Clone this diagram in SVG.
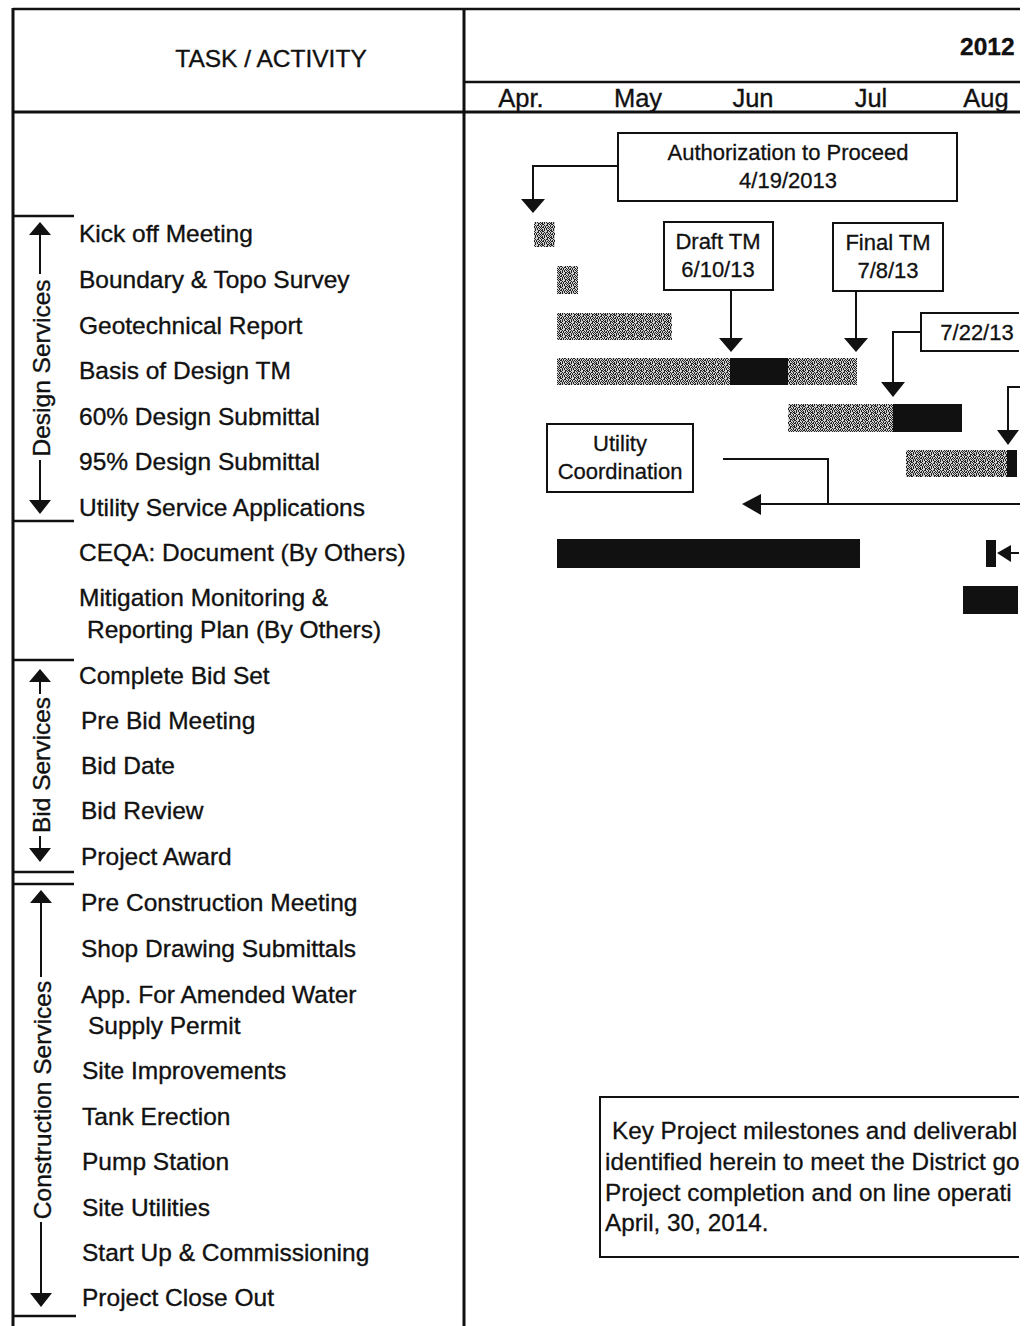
<svg xmlns="http://www.w3.org/2000/svg" width="1034" height="1326" viewBox="0 0 1034 1326">
<style>
.t{font-family:"Liberation Sans",Arial,sans-serif;font-size:24.5px;fill:#111;stroke:#111;stroke-width:0.35}
.m{font-family:"Liberation Sans",Arial,sans-serif;font-size:22px;fill:#111;stroke:#111;stroke-width:0.3}
.n{font-family:"Liberation Sans",Arial,sans-serif;font-size:24.3px;fill:#111;stroke:#111;stroke-width:0.3}
.mo{font-family:"Liberation Sans",Arial,sans-serif;font-size:25.5px;fill:#111;stroke:#111;stroke-width:0.35}
.c{text-anchor:middle}
.ln{stroke:#111;fill:none}
.box{stroke:#111;stroke-width:2;fill:#fff}
.blk{fill:#111}
.gry{fill:url(#speckle)}
</style>
<defs>
<pattern id="speckle" width="9" height="7" patternUnits="userSpaceOnUse">
<rect width="9" height="7" fill="#d0d0d0"/>
<rect x="0" y="0" width="1" height="1" fill="#222"/><rect x="2" y="0" width="2" height="1" fill="#222"/><rect x="7" y="0" width="1" height="1" fill="#222"/>
<rect x="1" y="1" width="1" height="2" fill="#222"/><rect x="4" y="1" width="1" height="1" fill="#222"/><rect x="6" y="1" width="2" height="1" fill="#222"/>
<rect x="3" y="2" width="1" height="1" fill="#222"/><rect x="5" y="2" width="1" height="2" fill="#222"/><rect x="8" y="2" width="1" height="1" fill="#222"/>
<rect x="0" y="3" width="1" height="1" fill="#222"/><rect x="2" y="3" width="2" height="1" fill="#222"/><rect x="7" y="3" width="1" height="1" fill="#222"/>
<rect x="1" y="4" width="1" height="1" fill="#222"/><rect x="4" y="4" width="1" height="1" fill="#222"/><rect x="6" y="4" width="1" height="2" fill="#222"/><rect x="8" y="4" width="1" height="1" fill="#222"/>
<rect x="0" y="5" width="1" height="1" fill="#222"/><rect x="2" y="5" width="1" height="1" fill="#222"/><rect x="4" y="5" width="1" height="2" fill="#222"/>
<rect x="1" y="6" width="2" height="1" fill="#222"/><rect x="7" y="6" width="2" height="1" fill="#222"/>
</pattern>
<clipPath id="clipR"><rect x="0" y="0" width="1019" height="1326"/></clipPath>
</defs>
<rect width="1034" height="1326" fill="#fff"/>

<g id="frame">
<line class="ln" x1="13" y1="8" x2="13" y2="1326" stroke-width="3"/>
<line class="ln" x1="464" y1="8" x2="464" y2="1326" stroke-width="3"/>
<line class="ln" x1="13" y1="9" x2="1020" y2="9" stroke-width="2.5"/>
<line class="ln" x1="464" y1="82" x2="1020" y2="82" stroke-width="2.5"/>
<line class="ln" x1="13" y1="112" x2="1020" y2="112" stroke-width="3"/>
</g>

<g id="header">
<text class="t c" x="271" y="67" font-size="25">TASK / ACTIVITY</text>
<text class="t" x="960" y="55" font-weight="bold" font-size="23" stroke-width="0">2012</text>
<text class="mo c" x="521" y="107">Apr.</text>
<text class="mo c" x="638" y="107">May</text>
<text class="mo c" x="753" y="107">Jun</text>
<text class="mo c" x="871" y="107">Jul</text>
<text class="mo c" x="986" y="107">Aug</text>
</g>

<g id="groups">
<g id="design-services">
<line class="ln" x1="13" y1="216" x2="74" y2="216" stroke-width="2.5"/>
<line class="ln" x1="13" y1="521" x2="74" y2="521" stroke-width="2.5"/>
<polygon class="blk" points="40,222 29,235 51,235"/>
<line class="ln" x1="40" y1="234" x2="40" y2="274" stroke-width="2"/>
<line class="ln" x1="40" y1="460" x2="40" y2="502" stroke-width="2"/>
<polygon class="blk" points="40,514 29,500 51,500"/>
<text class="t c" transform="translate(50,368) rotate(-90)">Design Services</text>
</g>
<g id="bid-services">
<line class="ln" x1="13" y1="660" x2="74" y2="660" stroke-width="2.5"/>
<line class="ln" x1="13" y1="872" x2="74" y2="872" stroke-width="2.5"/>
<polygon class="blk" points="40,669 29,682 51,682"/>
<line class="ln" x1="40" y1="681" x2="40" y2="694" stroke-width="2"/>
<line class="ln" x1="40" y1="836" x2="40" y2="850" stroke-width="2"/>
<polygon class="blk" points="40,862 29,848 51,848"/>
<text class="t c" transform="translate(50,765) rotate(-90)">Bid Services</text>
</g>
<g id="construction-services">
<line class="ln" x1="13" y1="884" x2="74" y2="884" stroke-width="2.5"/>
<line class="ln" x1="13" y1="1316" x2="76" y2="1316" stroke-width="2.5"/>
<polygon class="blk" points="41,890 30,903 52,903"/>
<line class="ln" x1="41" y1="902" x2="41" y2="977" stroke-width="2"/>
<line class="ln" x1="41" y1="1222" x2="41" y2="1293" stroke-width="2"/>
<polygon class="blk" points="41,1307 30,1293 52,1293"/>
<text class="t c" transform="translate(51,1100) rotate(-90)">Construction Services</text>
</g>
</g>

<g id="tasks">
<text class="t" x="79" y="242">Kick off Meeting</text>
<text class="t" x="79" y="288">Boundary &amp; Topo Survey</text>
<text class="t" x="79" y="334">Geotechnical Report</text>
<text class="t" x="79" y="379">Basis of Design TM</text>
<text class="t" x="79" y="425">60% Design Submittal</text>
<text class="t" x="79" y="470">95% Design Submittal</text>
<text class="t" x="79" y="516">Utility Service Applications</text>
<text class="t" x="79" y="561">CEQA: Document (By Others)</text>
<text class="t" x="79" y="606">Mitigation Monitoring &amp;</text>
<text class="t" x="87" y="638">Reporting Plan (By Others)</text>
<text class="t" x="79" y="684">Complete Bid Set</text>
<text class="t" x="81" y="729">Pre Bid Meeting</text>
<text class="t" x="81" y="774">Bid Date</text>
<text class="t" x="81" y="819">Bid Review</text>
<text class="t" x="81" y="865">Project Award</text>
<text class="t" x="81" y="911">Pre Construction Meeting</text>
<text class="t" x="81" y="957">Shop Drawing Submittals</text>
<text class="t" x="81" y="1003">App. For Amended Water</text>
<text class="t" x="88" y="1034">Supply Permit</text>
<text class="t" x="82" y="1079">Site Improvements</text>
<text class="t" x="82" y="1125">Tank Erection</text>
<text class="t" x="82" y="1170">Pump Station</text>
<text class="t" x="82" y="1216">Site Utilities</text>
<text class="t" x="82" y="1261">Start Up &amp; Commissioning</text>
<text class="t" x="82" y="1306">Project Close Out</text>
</g>

<g id="bars">
<rect class="gry" x="534" y="222" width="21" height="25"/>
<rect class="gry" x="557" y="266" width="21" height="28"/>
<rect class="gry" x="557" y="313" width="115" height="27"/>
<rect class="gry" x="557" y="358" width="173" height="27"/>
<rect class="blk" x="730" y="358" width="58" height="27"/>
<rect class="gry" x="788" y="358" width="69" height="27"/>
<rect class="gry" x="788" y="404" width="105" height="28"/>
<rect class="blk" x="893" y="404" width="69" height="28"/>
<rect class="gry" x="906" y="450" width="101" height="27"/>
<rect class="blk" x="1007" y="450" width="10" height="27"/>
<rect class="blk" x="557" y="539" width="303" height="29"/>
<rect class="blk" x="986" y="540" width="10" height="27"/>
<rect class="blk" x="963" y="586" width="55" height="28"/>
</g>

<g id="connectors">
<polyline class="ln" stroke-width="2" points="618,166 533,166 533,202"/>
<polygon class="blk" points="521,199 545,199 533,213"/>
<line class="ln" stroke-width="2" x1="731" y1="290" x2="731" y2="340"/>
<polygon class="blk" points="719,338 743,338 731,352"/>
<line class="ln" stroke-width="2" x1="856" y1="291" x2="856" y2="340"/>
<polygon class="blk" points="844,338 868,338 856,352"/>
<polyline class="ln" stroke-width="2" points="921,332 893,332 893,384"/>
<polygon class="blk" points="881,382 905,382 893,397"/>
<polyline class="ln" stroke-width="2" points="1020,387 1008,387 1008,432"/>
<polygon class="blk" points="997,430 1019,430 1008,445"/>
<polyline class="ln" stroke-width="2" points="723,459 828,459 828,504"/>
<line class="ln" stroke-width="2" x1="758" y1="504" x2="1020" y2="504"/>
<polygon class="blk" points="742,504 761,494 761,515"/>
<polygon class="blk" points="997,553 1011,545 1011,562"/>
<line class="ln" stroke-width="2" x1="1010" y1="553" x2="1019" y2="553"/>
</g>

<g id="authorization">
<rect class="box" x="618" y="133" width="339" height="68"/>
<text class="m c" x="788" y="160">Authorization to Proceed</text>
<text class="m c" x="788" y="188">4/19/2013</text>
</g>
<g id="draft-tm">
<rect class="box" x="664" y="222" width="109" height="68"/>
<text class="m c" x="718" y="249">Draft TM</text>
<text class="m c" x="718" y="277">6/10/13</text>
</g>
<g id="final-tm">
<rect class="box" x="833" y="223" width="110" height="68"/>
<text class="m c" x="888" y="250">Final TM</text>
<text class="m c" x="888" y="278">7/8/13</text>
</g>
<g id="milestone-72213" clip-path="url(#clipR)">
<path class="box" d="M1030,313 H921 V351 H1030"/>
<text class="m c" x="977" y="340">7/22/13</text>
</g>
<g id="utility-coordination">
<rect class="box" x="547" y="424" width="146" height="68"/>
<text class="m c" x="620" y="451">Utility</text>
<text class="m c" x="620" y="479">Coordination</text>
</g>
<g id="note" clip-path="url(#clipR)">
<path class="box" d="M1030,1097 H600 V1257 H1030"/>
<text class="n" x="612" y="1139">Key Project milestones and deliverabl</text>
<text class="n" x="605" y="1170">identified herein to meet the District go</text>
<text class="n" x="605" y="1201">Project completion and on line operati</text>
<text class="n" x="605" y="1231">April, 30, 2014.</text>
</g>
</svg>
